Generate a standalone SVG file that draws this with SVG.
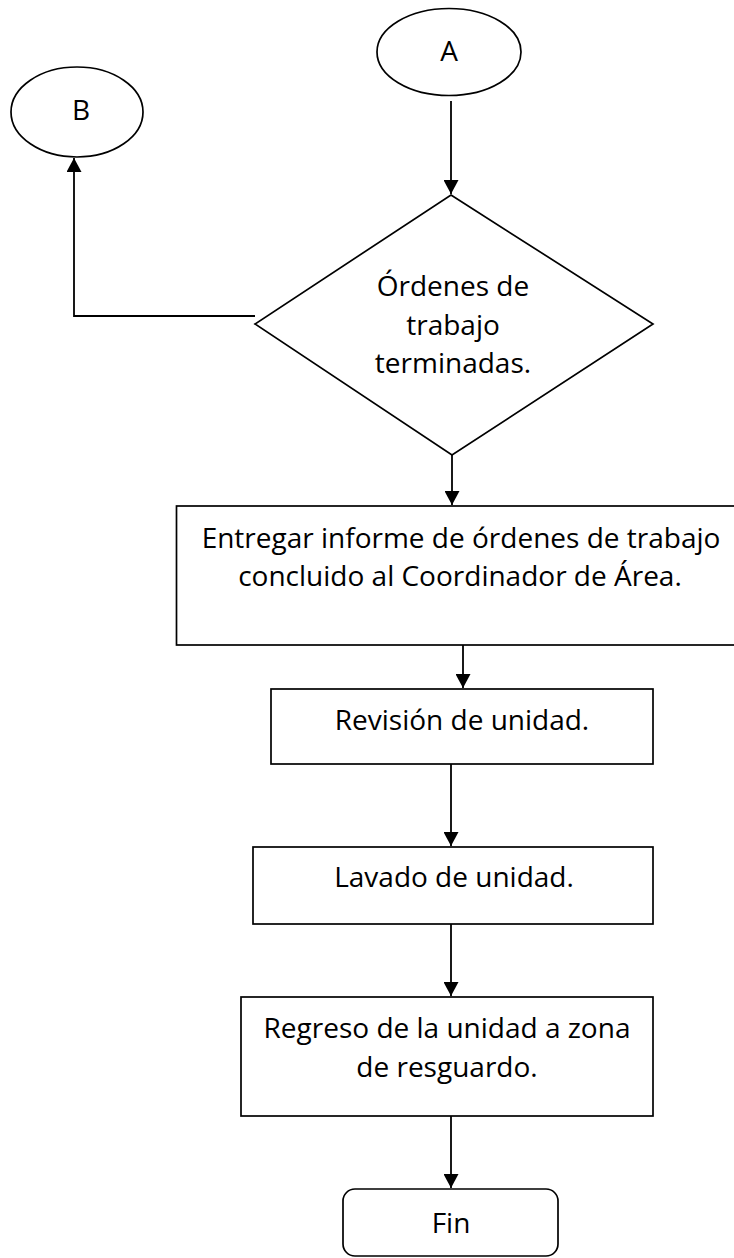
<svg xmlns="http://www.w3.org/2000/svg" width="734" height="1258" viewBox="0 0 734 1258">
<style>
  .shape { fill: #ffffff; stroke: #000000; stroke-width: 1.7; }
  .conn { fill: none; stroke: #000000; stroke-width: 1.8; }
  .lbl { font-family: "Open Sans", "Liberation Sans", sans-serif; font-size: 28px; fill: #000000; text-anchor: middle; }
</style>
<defs>
  <marker id="arrow" markerUnits="userSpaceOnUse" markerWidth="15" markerHeight="15" refX="14" refY="7.5" orient="auto">
    <path d="M0,0 L14,7.5 L0,15 z" fill="#000000"/>
  </marker>
</defs>
<rect x="0" y="0" width="734" height="1258" fill="#ffffff"/>
<g id="connectors">
  <path class="conn" d="M451,101 V194" marker-end="url(#arrow)"/>
  <path class="conn" d="M255,316 H74 V158" marker-end="url(#arrow)"/>
  <path class="conn" d="M452,455 V505" marker-end="url(#arrow)"/>
  <path class="conn" d="M463,645 V688" marker-end="url(#arrow)"/>
  <path class="conn" d="M451,764 V846" marker-end="url(#arrow)"/>
  <path class="conn" d="M451,924 V996" marker-end="url(#arrow)"/>
  <path class="conn" d="M451,1116 V1188" marker-end="url(#arrow)"/>
</g>
<g id="node-A">
  <ellipse class="shape" cx="449" cy="52" rx="72" ry="43.5"/>
  <text class="lbl" x="449" y="61">A</text>
</g>
<g id="node-B">
  <ellipse class="shape" cx="77" cy="112" rx="66" ry="45"/>
  <text class="lbl" x="81" y="120">B</text>
</g>
<g id="node-decision">
  <polygon class="shape" points="451,195 653,324 452,455 255,324"/>
  <text class="lbl" x="453" y="296">Órdenes de</text>
  <text class="lbl" x="453" y="335">trabajo</text>
  <text class="lbl" x="453" y="373">terminadas.</text>
</g>
<g id="node-entregar">
  <rect class="shape" x="176.5" y="506" width="570" height="139"/>
  <text class="lbl" x="461" y="548">Entregar informe de órdenes de trabajo</text>
  <text class="lbl" x="460" y="586">concluido al Coordinador de Área.</text>
</g>
<g id="node-revision">
  <rect class="shape" x="271" y="689" width="382" height="75"/>
  <text class="lbl" x="462" y="730">Revisión de unidad.</text>
</g>
<g id="node-lavado">
  <rect class="shape" x="253" y="847" width="400" height="77"/>
  <text class="lbl" x="454" y="887">Lavado de unidad.</text>
</g>
<g id="node-regreso">
  <rect class="shape" x="241" y="997" width="412" height="119"/>
  <text class="lbl" x="447" y="1038">Regreso de la unidad a zona</text>
  <text class="lbl" x="447" y="1077">de resguardo.</text>
</g>
<g id="node-fin">
  <rect class="shape" x="343" y="1189" width="215" height="67" rx="12" ry="12"/>
  <text class="lbl" x="451" y="1233">Fin</text>
</g>
</svg>
